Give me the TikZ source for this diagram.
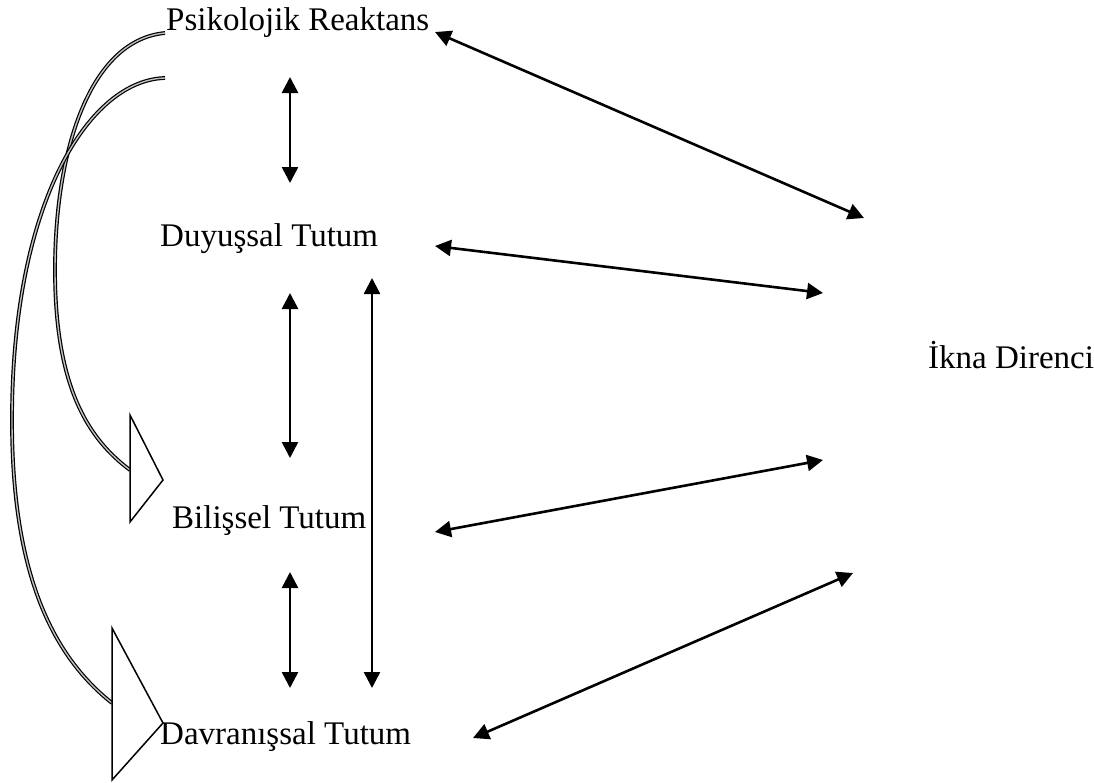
\documentclass[tikz,border=0pt]{standalone}
\usepackage{fontspec}
\setmainfont{Liberation Serif}
\usetikzlibrary{arrows.meta}
\begin{document}
\begin{tikzpicture}[x=1pt,y=-1pt,
  lbl/.style={anchor=base west,inner sep=0pt,font=\fontsize{33}{40}\selectfont},
  link/.style={line width=2.6pt,{Triangle[length=16pt,width=16pt]}-{Triangle[length=16pt,width=16pt]}},
  curvelink/.style={line width=1.2pt,double=white!75!black,double distance=1.4pt},
  headtri/.style={draw,fill=white,line width=1.5pt,line join=miter}]
\useasboundingbox (0,0) rectangle (1094,782);
% texts
\node[lbl] (psr) at (166,30) {Psikolojik Reaktans};
\node[lbl] (duy) at (160,246) {Duyuşsal Tutum};
\node[lbl] (bil) at (172,528) {Bilişsel Tutum};
\node[lbl] (dav) at (160,744) {Davranışsal Tutum};
\node[lbl] (ikna) at (928,368) {İkna Direnci};
% endpoints
\coordinate (p1) at (435,32);
\coordinate (p2) at (864,218);
\coordinate (d1) at (435,246);
\coordinate (d2) at (823,293);
\coordinate (b1) at (435,532);
\coordinate (b2) at (823,460);
\coordinate (v1) at (473,738);
\coordinate (v2) at (853,573);
\draw[link] (p1) -- (p2);
\draw[link] (d1) -- (d2);
\draw[link] (b1) -- (b2);
\draw[link] (v1) -- (v2);
% vertical arrows
\coordinate (a1t) at (290,77);  \coordinate (a1b) at (290,183);
\coordinate (a2t) at (290,293); \coordinate (a2b) at (290,458);
\coordinate (a3t) at (290,572); \coordinate (a3b) at (290,688);
\coordinate (lt) at (372,278);  \coordinate (lb) at (372,688);
\draw[link] (a1t) -- (a1b);
\draw[link] (a2t) -- (a2b);
\draw[link] (a3t) -- (a3b);
\draw[link] (lt) -- (lb);
% curved block arrows on the left
\coordinate (c1s) at (165,33);
\coordinate (c1e) at (130,470);
\coordinate (c2s) at (165,78);
\coordinate (c2e) at (112,703);
\draw[curvelink] (c1s) .. controls (90,40) and (55,150) .. (55,270)
  .. controls (55,390) and (90,440) .. (c1e);
\draw[curvelink] (c2s) .. controls (90,80) and (12,200) .. (12,420)
  .. controls (12,560) and (45,650) .. (c2e);
\draw[headtri] (130,415) -- (163,480) -- (130,522) -- cycle;
\draw[headtri] (112,628) -- (163,723) -- (112,780) -- cycle;
\end{tikzpicture}
\end{document}
